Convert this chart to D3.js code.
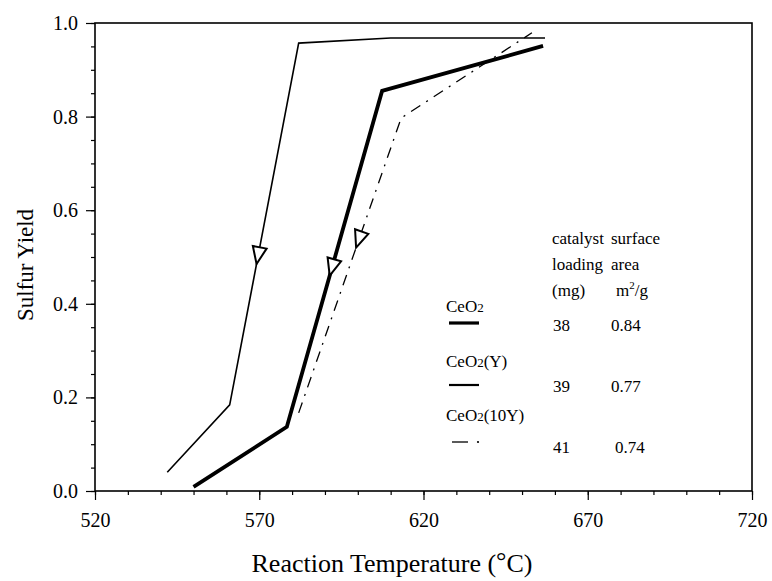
<!DOCTYPE html>
<html><head><meta charset="utf-8">
<script src="https://cdn.jsdelivr.net/npm/d3@7"></script>
<style>body{margin:0;background:#fff}svg{display:block}text{font-family:"Liberation Serif","Times New Roman",serif !important;fill:#000}</style>
</head><body><svg id="c" width="772" height="581"></svg>
<script>
// data
const thinTemp = [542, 561, 582, 610, 657];
const thinYield = [0.04, 0.184, 0.957, 0.968, 0.968];
const thickTemp = [550, 578.4, 607.4, 656.4];
const thickYield = [0.009, 0.137, 0.855, 0.951];
const dashTemp = [582, 613.2, 653];
const dashYield = [0.167, 0.797, 0.979];
const arrowYields = [0.485, 0.46, 0.52];
const xTicks = [520, 570, 620, 670, 720];
const yTicks = [0.0, 0.2, 0.4, 0.6, 0.8, 1.0];
const legendNames = ["CeO2", "CeO2(Y)", "CeO2(10Y)"];
const legendLoading = ["38", "39", "41"];
const legendArea = ["0.84", "0.77", "0.74"];

const svg = d3.select("#c");
const L = 95, R = 752, T = 23, B = 491;
const x = d3.scaleLinear().domain([520, 720]).range([L, R]);
const y = d3.scaleLinear().domain([0, 1]).range([B, T]);

// frame
svg.append("rect").attr("x", L).attr("y", T).attr("width", R - L).attr("height", B - T)
  .attr("fill", "none").attr("stroke", "#000").attr("stroke-width", 1.6);

// axes
const gx = svg.append("g").attr("transform", `translate(0,${B})`);
gx.call(d3.axisBottom(x).tickValues(d3.range(520, 721, 10)).tickSize(4).tickFormat(""));
gx.select(".domain").remove();
const gx2 = svg.append("g").attr("transform", `translate(0,${B})`);
gx2.call(d3.axisBottom(x).tickValues(xTicks).tickSize(9).tickPadding(13).tickFormat(d3.format("d")));
gx2.select(".domain").remove();

const gy = svg.append("g").attr("transform", `translate(${L},0)`);
gy.call(d3.axisLeft(y).tickValues(d3.range(0, 1.001, 0.05)).tickSize(4).tickFormat(""));
gy.select(".domain").remove();
const gy2 = svg.append("g").attr("transform", `translate(${L},0)`);
gy2.call(d3.axisLeft(y).tickValues(yTicks).tickSize(9).tickPadding(8).tickFormat(d3.format(".1f")));
gy2.select(".domain").remove();
[gx2, gy2].forEach(g => g.attr("font-size", 20).attr("font-family", null)
  .selectAll("text").style("font-size", "20px"));
svg.selectAll(".tick line").attr("stroke", "#000").attr("stroke-width", 1.2);

// titles
const xt = svg.append("text").attr("x", 392).attr("y", 572).attr("text-anchor", "middle").style("font-size", "26px");
xt.append("tspan").text("Reaction Temperature (");
xt.append("tspan").attr("dy", -3).text("°");
xt.append("tspan").attr("dy", 3).text("C)");
svg.append("text").attr("transform", "translate(33,265) rotate(-90)").attr("text-anchor", "middle")
  .style("font-size", "23px").text("Sulfur Yield");

// lines
const line = d3.line().x(d => x(d[0])).y(d => y(d[1]));
const series = [
  {pts: d3.zip(thinTemp, thinYield), w: 1.6, dash: null},
  {pts: d3.zip(thickTemp, thickYield), w: 3.8, dash: null},
  {pts: d3.zip(dashTemp, dashYield), w: 1.3, dash: "11,7,2,7"}
];
series.forEach((s, i) => {
  svg.append("path").attr("d", line(s.pts)).attr("fill", "none").attr("stroke", "#000")
    .attr("stroke-width", s.w).attr("stroke-dasharray", s.dash).attr("stroke-linejoin", "miter");
  const ay = arrowYields[i];
  for (let k = 0; k < s.pts.length - 1; k++) {
    const a = s.pts[k], b = s.pts[k + 1];
    if ((ay - a[1]) * (ay - b[1]) <= 0 && a[1] !== b[1]) {
      const t = (ay - a[1]) / (b[1] - a[1]);
      const px = x(a[0] + t * (b[0] - a[0])), py = y(ay);
      const ang = Math.atan2(y(a[1]) - y(b[1]), x(a[0]) - x(b[0])) * 180 / Math.PI;
      svg.append("path").attr("d", "M0,0 L-17,-7 L-17,7 Z")
        .attr("transform", `translate(${px},${py}) rotate(${ang})`)
        .attr("fill", "#fff").attr("stroke", "#000").attr("stroke-width", 2);
      break;
    }
  }
});

// legend / table
const fs = "17px";
const hdr = [["catalyst", "surface"], ["loading", "area"]];
hdr.forEach((r, i) => {
  svg.append("text").attr("x", 552).attr("y", 244 + i * 26).style("font-size", fs).text(r[0]);
  svg.append("text").attr("x", 611).attr("y", 244 + i * 26).style("font-size", fs).text(r[1]);
});
svg.append("text").attr("x", 552).attr("y", 296).style("font-size", fs).text("(mg)");
const m2 = svg.append("text").attr("x", 616).attr("y", 296).style("font-size", fs);
m2.append("tspan").text("m");
m2.append("tspan").attr("dy", -7).style("font-size", "11px").text("2");
m2.append("tspan").attr("dy", 7).text("/g");

const nameY = [312, 367, 421];
const lineY = [323, 385, 442];
const valY = [331, 392, 453];
const legW = [3.2, 2.2, 1.3];
legendNames.forEach((n, i) => {
  const t = svg.append("text").attr("x", 446).attr("y", nameY[i]).style("font-size", fs);
  const m = n.match(/^(CeO)(2)(.*)$/);
  t.append("tspan").text(m[1]);
  t.append("tspan").style("font-size", "13px").text(m[2]);
  t.append("tspan").text(m[3]);
  if (i < 2) {
    svg.append("line").attr("x1", 449).attr("x2", 479).attr("y1", lineY[i]).attr("y2", lineY[i])
      .attr("stroke", "#000").attr("stroke-width", legW[i]);
  } else {
    svg.append("line").attr("x1", 452).attr("x2", 468).attr("y1", lineY[i]).attr("y2", lineY[i])
      .attr("stroke", "#000").attr("stroke-width", legW[i]);
    svg.append("circle").attr("cx", 478).attr("cy", lineY[i]).attr("r", 1.1).attr("fill", "#000");
  }
  svg.append("text").attr("x", 553).attr("y", valY[i]).style("font-size", fs).text(legendLoading[i]);
  svg.append("text").attr("x", i === 2 ? 615 : 611).attr("y", valY[i]).style("font-size", fs).text(legendArea[i]);
});
</script></body></html>
